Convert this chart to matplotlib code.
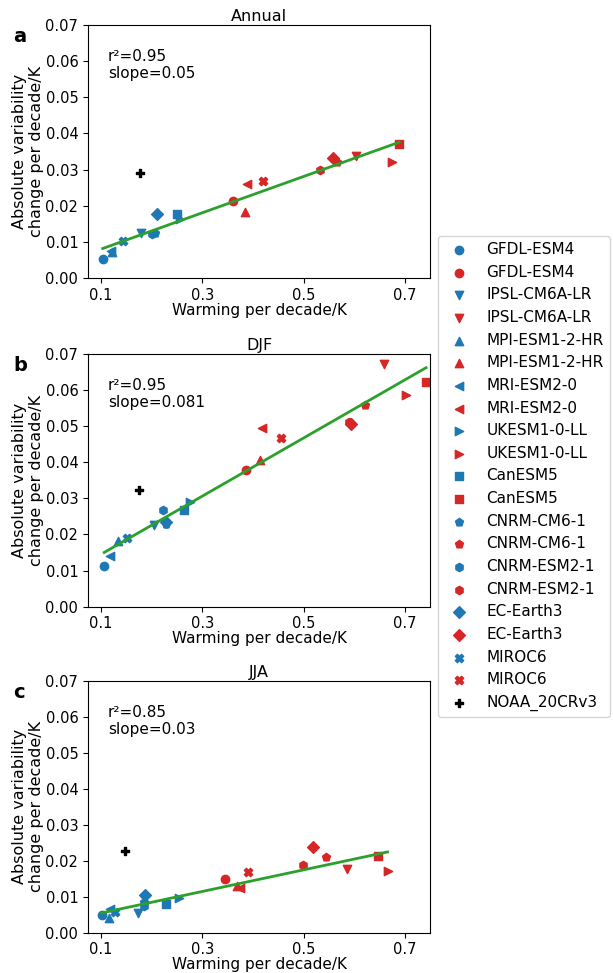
import numpy as np
import matplotlib
matplotlib.use('Agg')
import matplotlib.pyplot as plt

# Models and their markers (same marker in both colour groups)
models = ['GFDL-ESM4', 'IPSL-CM6A-LR', 'MPI-ESM1-2-HR', 'MRI-ESM2-0', 'UKESM1-0-LL',
          'CanESM5', 'CNRM-CM6-1', 'CNRM-ESM2-1', 'EC-Earth3', 'MIROC6']
markers = ['o', 'v', '^', '<', '>', 's', 'p', 'h', 'D', 'X']
obs_name = 'NOAA_20CRv3'

# Annual
ann_blue_x = [0.103, 0.179, 0.121, 0.120, 0.256, 0.249, 0.206, 0.201, 0.210, 0.144]
ann_blue_y = [0.0053, 0.0124, 0.0073, 0.0076, 0.0163, 0.0177, 0.0124, 0.0122, 0.0178, 0.0101]
ann_red_x = [0.360, 0.603, 0.384, 0.389, 0.674, 0.689, 0.567, 0.532, 0.558, 0.420]
ann_red_y = [0.0213, 0.0338, 0.0183, 0.0260, 0.0322, 0.0370, 0.0320, 0.0298, 0.0331, 0.0268]
ann_obs = (0.177, 0.0290)

# DJF
djf_blue_x = [0.106, 0.205, 0.133, 0.118, 0.275, 0.263, 0.229, 0.223, 0.229, 0.151]
djf_blue_y = [0.0113, 0.0226, 0.0181, 0.0140, 0.0290, 0.0268, 0.0228, 0.0268, 0.0235, 0.0189]
djf_red_x = [0.387, 0.658, 0.414, 0.417, 0.703, 0.742, 0.621, 0.589, 0.593, 0.455]
djf_red_y = [0.0378, 0.0673, 0.0405, 0.0496, 0.0585, 0.0621, 0.0560, 0.0511, 0.0507, 0.0468]
djf_obs = (0.175, 0.0324)

# JJA
jja_blue_x = [0.101, 0.172, 0.116, 0.118, 0.253, 0.229, 0.185, 0.184, 0.187, 0.128]
jja_blue_y = [0.0050, 0.0055, 0.0040, 0.0065, 0.0097, 0.0080, 0.0085, 0.0074, 0.0105, 0.0058]
jja_red_x = [0.344, 0.585, 0.369, 0.375, 0.666, 0.648, 0.544, 0.499, 0.519, 0.390]
jja_red_y = [0.0150, 0.0177, 0.0130, 0.0125, 0.0171, 0.0212, 0.0210, 0.0189, 0.0238, 0.0168]
jja_obs = (0.148, 0.0228)

titles = ['Annual', 'DJF', 'JJA']
letters = ['a', 'b', 'c']
stats_text = ['r\u00b2=0.95\nslope=0.05', 'r\u00b2=0.95\nslope=0.081', 'r\u00b2=0.85\nslope=0.03']

panels = [
    (ann_blue_x, ann_blue_y, ann_red_x, ann_red_y, ann_obs),
    (djf_blue_x, djf_blue_y, djf_red_x, djf_red_y, djf_obs),
    (jja_blue_x, jja_blue_y, jja_red_x, jja_red_y, jja_obs),
]

fig = plt.figure(figsize=(6.13, 9.73), dpi=100)
# axes boxes in figure fractions: left, bottom, width, height
boxes = [
    [0.1436, 0.7143, 0.558, 0.260],
    [0.1436, 0.3765, 0.558, 0.2597],
    [0.1436, 0.0414, 0.558, 0.2587],
]

for i, (bx, by, rx, ry, obs) in enumerate(panels):
    ax = fig.add_axes(boxes[i])
    for j, m in enumerate(markers):
        ax.scatter(bx[j], by[j], marker=m, color='tab:blue', label=models[j])
        ax.scatter(rx[j], ry[j], marker=m, color='tab:red', label=models[j])
    ax.scatter(obs[0], obs[1], marker='P', color='black', label=obs_name)

    # linear fit over all model points
    x_all = np.array(bx + rx)
    y_all = np.array(by + ry)
    k, b = np.polyfit(x_all, y_all, 1)
    xx = np.array([x_all.min(), x_all.max()])
    ax.plot(xx, k * xx + b, color='tab:green', lw=2)

    ax.text(0.058, 0.905, stats_text[i], transform=ax.transAxes, va='top', fontsize=11)
    ax.set_title(titles[i], fontsize=11.5, pad=3)
    ax.set_xlim(0.074, 0.75)
    ax.set_ylim(0, 0.07)
    ax.set_xticks([0.1, 0.3, 0.5, 0.7])
    ax.set_yticks(np.arange(0, 0.071, 0.01))
    ax.tick_params(labelsize=10.5)
    ax.set_xlabel('Warming per decade/K', fontsize=11, labelpad=0)
    ax.set_ylabel('Absolute variability\nchange per decade/K', fontsize=11.5, labelpad=1)
    fig.text(0.022, boxes[i][1] + boxes[i][3] - 0.012, letters[i],
             fontsize=14, fontweight='bold', va='center')
    if i == 0:
        handles, labels = ax.get_legend_handles_labels()

fig.legend(handles, labels, loc='upper left', bbox_to_anchor=(0.714, 0.7575),
           borderaxespad=0, fontsize=11, scatterpoints=1, labelspacing=0.5)

fig.savefig('out.png', dpi=100)
